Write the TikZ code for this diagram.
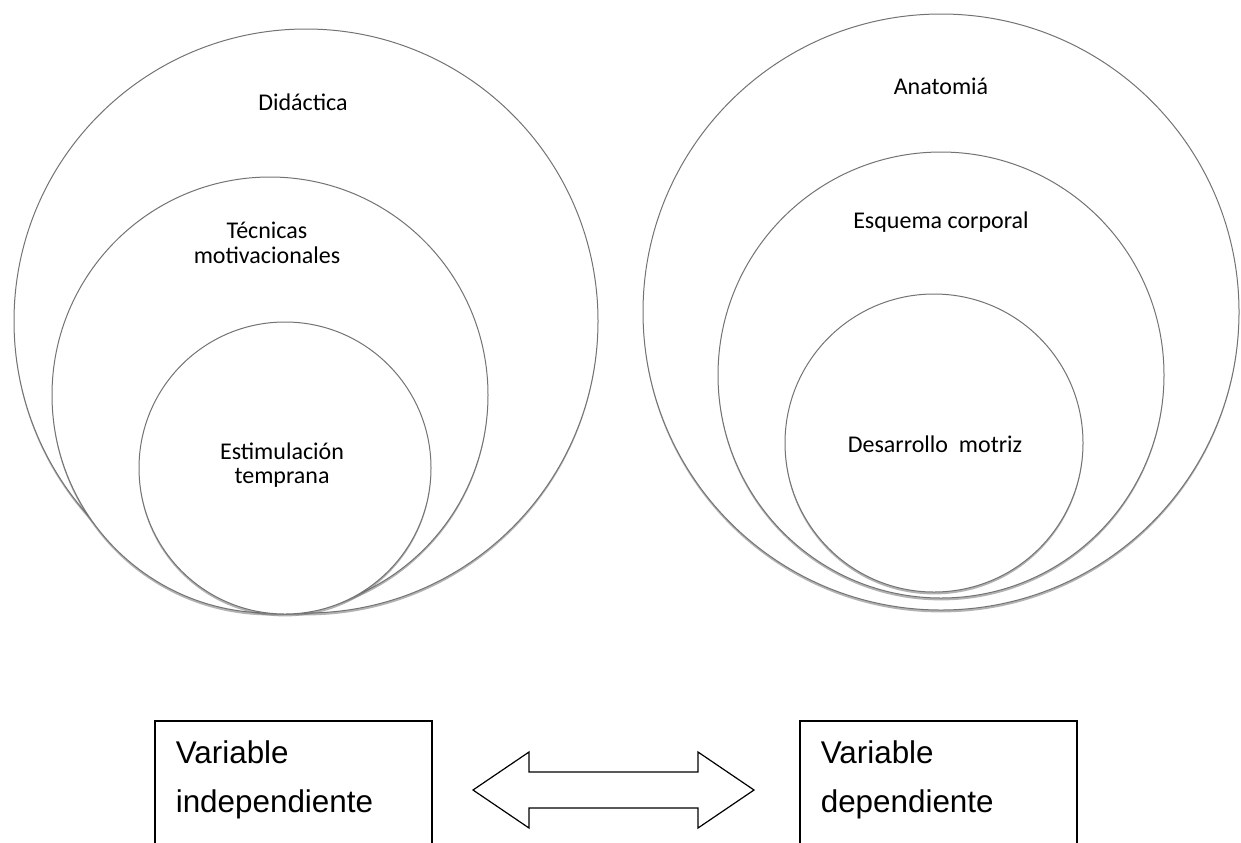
\documentclass[tikz,border=0pt]{standalone}
\usepackage{fontspec}
\usetikzlibrary{positioning,shadows}
\newfontfamily\carlito{Carlito}
\newfontfamily\arialfont{Liberation Sans}

\begin{document}
\begin{tikzpicture}[x=0.5pt,y=-0.5pt,
		ring/.style={circle, draw=black!55, line width=0.5pt, fill=white, inner sep=0pt, minimum size=#1pt,
			drop shadow={shadow xshift=0pt, shadow yshift=-1.2pt, fill=black!60, opacity=.5}},
		ringtext/.style={font=\carlito\fontsize{12}{12.3}\selectfont, align=center, inner sep=0pt},
		varbox/.style={rectangle, draw, line width=0.6pt, minimum width=138.5pt, minimum height=100pt, inner sep=0pt},
		vartext/.style={font=\arialfont\fontsize{15.7}{24.5}\selectfont, align=left, inner sep=0pt}]
		
		\clip (0,0) rectangle (1241,842);
		
		% independiente
		\foreach \name/\cx/\cy/\r in {didac/306/321/292, tecn/270/395/218, estim/285/468/146}
			\node[ring=\r] (\name) at (\cx,\cy) {};
		\node[ringtext, anchor=base] (didactxt) at (303,110) {Didáctica};
		\node[ringtext] (tecntxt) at (267,243) {Técnicas\\motivacionales};
		\node[ringtext] (estimtxt) at (282,465) {Estimulación\\temprana};
		
		% dependiente
		\foreach \name/\cx/\cy/\r in {anat/941/312/298, esq/941/375/223, desa/934/443/149}
			\node[ring=\r] (\name) at (\cx,\cy) {};
		\node[ringtext, anchor=base] (anattxt) at (941,94) {Anatomiá};
		\node[ringtext, anchor=base] (esqtxt) at (941,228) {Esquema corporal};
		\node[ringtext, anchor=base] (desatxt) at (935,452) {Desarrollo\ \ motriz};
		
		% variables
		\node[varbox] (indep) at (293.5,821) {};
		\node[varbox] (dep) at (938.5,821) {};
		\node[vartext, below right=9.75pt and 10.5pt of indep.north west] (indeptxt) {Variable\\independiente};
		\node[vartext, below right=9.75pt and 10.5pt of dep.north west] (deptxt) {Variable\\dependiente};
		
		\draw[line width=0.6pt, fill=white] (473,790) -- (529,752) -- (529,772) -- (698,772) -- (698,752)
			-- (754,790) -- (698,828) -- (698,808) -- (529,808) -- (529,828) -- cycle;
		
\end{tikzpicture}
\end{document}
